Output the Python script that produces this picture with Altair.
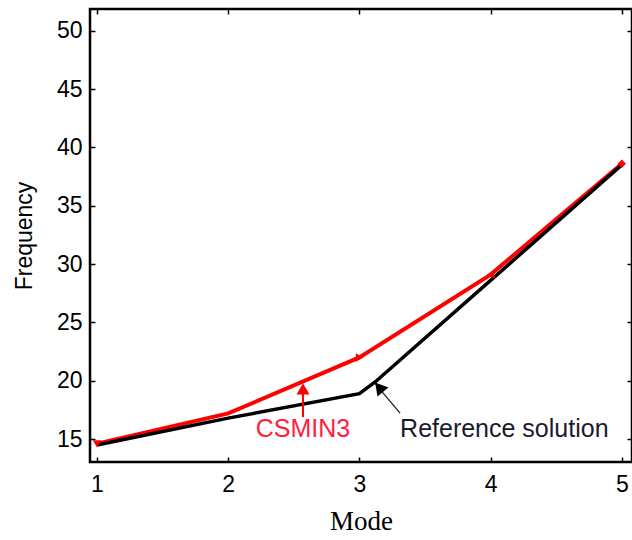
import altair as alt
import pandas as pd

# ---- data ----
ref_mode = [1, 2, 3, 3.12, 4, 5]
ref_freq = [14.5, 16.8, 18.9, 19.9, 28.6, 38.5]

cs_mode = [1, 2, 3, 4, 5]
cs_freq = [14.6, 17.2, 22.0, 29.1, 38.6]
cs_shapes = ["triangle-down", "triangle-up", "triangle-right", "triangle-left", "diamond"]

x_ticks = [1, 2, 3, 4, 5]
y_ticks = [15, 20, 25, 30, 35, 40, 45, 50]

# annotations (data coordinates)
cs_label = ["CSMIN3"]
cs_label_xy = [2.57, 15.17]
cs_arrow_x = [2.57]
cs_arrow_y = [16.9, 19.6]
cs_head_xy = [2.57, 19.3]

ref_label = ["Reference solution"]
ref_label_xy = [3.31, 15.17]
ref_arrow = [[3.31, 17.23], [3.12, 19.75]]
ref_head_xy = [3.15, 19.45]

ref_df = pd.DataFrame({"mode": ref_mode, "freq": ref_freq})
cs_df = pd.DataFrame({"mode": cs_mode, "freq": cs_freq, "shape": cs_shapes})

xs = alt.Scale(domain=[0.9466, 5.0777], nice=False, zero=False)
ys = alt.Scale(domain=[13.04, 51.86], nice=False, zero=False)

tick_font = "Liberation Sans"

axis_bottom = alt.Axis(orient="bottom", values=x_ticks, domain=False, grid=False,
                       offset=-5, tickSize=5, tickWidth=1.5, tickColor="black",
                       labelPadding=11, labelFont=tick_font, labelFontSize=23,
                       labelColor="black", title="Mode", titleFont="Liberation Serif",
                       titleFontSize=27, titleFontWeight="normal", titleColor="black",
                       titlePadding=12)
axis_left = alt.Axis(orient="left", values=y_ticks, domain=False, grid=False,
                     offset=-5, tickSize=5, tickWidth=1.5, tickColor="black",
                     labelPadding=8, labelFont=tick_font, labelFontSize=23,
                     labelColor="black", title="Frequency", titleFont=tick_font,
                     titleFontSize=23, titleFontWeight="normal", titleColor="black",
                     titlePadding=20)
axis_top = alt.Axis(orient="top", values=x_ticks, domain=False, grid=False, labels=False,
                    offset=-5, tickSize=5, tickWidth=1.5, tickColor="black", title=None)
axis_right = alt.Axis(orient="right", values=y_ticks, domain=False, grid=False, labels=False,
                      offset=-5, tickSize=5, tickWidth=1.5, tickColor="black", title=None)


def X(field, axis=None):
    return alt.X(field, scale=xs, axis=axis)


def Y(field, axis=None):
    return alt.Y(field, scale=ys, axis=axis)


black_line = alt.Chart(ref_df).mark_line(color="black", strokeWidth=3.5).encode(
    x=X("mode:Q", axis_top), y=Y("freq:Q", axis_right))

red_line = alt.Chart(cs_df).mark_line(color="#ff0000", strokeWidth=4).encode(
    x=X("mode:Q", axis_bottom), y=Y("freq:Q", axis_left))

red_pts = alt.Chart(cs_df[cs_df["shape"] != "triangle-up"]).mark_point(
    filled=True, color="#ff0000", size=70, opacity=1).encode(
    x=X("mode:Q"), y=Y("freq:Q"),
    shape=alt.Shape("shape:N", scale=None),
)

cs_shaft_df = pd.DataFrame({"x": cs_arrow_x, "y": [cs_arrow_y[0]], "y2": [cs_arrow_y[1]]})
cs_shaft = alt.Chart(cs_shaft_df).mark_rule(color="#ff0000", strokeWidth=2).encode(
    x=X("x:Q"), y=Y("y:Q"), y2="y2:Q")
cs_head = alt.Chart(pd.DataFrame({"x": [cs_head_xy[0]], "y": [cs_head_xy[1]]})).mark_point(
    shape="triangle-up", filled=True, color="#ff0000", size=170, opacity=1).encode(
    x=X("x:Q"), y=Y("y:Q"))
cs_text = alt.Chart(pd.DataFrame({"x": [cs_label_xy[0]], "y": [cs_label_xy[1]], "t": cs_label})).mark_text(
    font=tick_font, fontSize=25, color="#ff2040", align="center", baseline="alphabetic").encode(
    x=X("x:Q"), y=Y("y:Q"), text="t:N")

ref_shaft_df = pd.DataFrame({"x": [ref_arrow[0][0]], "y": [ref_arrow[0][1]],
                             "x2": [ref_arrow[1][0]], "y2": [ref_arrow[1][1]]})
ref_shaft = alt.Chart(ref_shaft_df).mark_rule(color="#222222", strokeWidth=1.3).encode(
    x=X("x:Q"), y=Y("y:Q"), x2="x2:Q", y2="y2:Q")
ref_head = alt.Chart(pd.DataFrame({"x": [ref_head_xy[0]], "y": [ref_head_xy[1]]})).mark_point(
    shape="triangle-up", filled=True, color="black", size=200, opacity=1, angle=321).encode(
    x=X("x:Q"), y=Y("y:Q"))
ref_text = alt.Chart(pd.DataFrame({"x": [ref_label_xy[0]], "y": [ref_label_xy[1]], "t": ref_label})).mark_text(
    font=tick_font, fontSize=25, color="#1a1a2e", align="left", baseline="alphabetic").encode(
    x=X("x:Q"), y=Y("y:Q"), text="t:N")

chart = alt.layer(
    red_line, black_line, red_pts, cs_shaft, cs_head, cs_text, ref_shaft, ref_head, ref_text
).resolve_axis(x="independent", y="independent").properties(
    width=542, height=453,
    background="white",
    autosize=alt.AutoSizeParams(type="none"),
    padding={"left": 90, "top": 9, "right": 0, "bottom": 78},
).configure_view(stroke="black", strokeWidth=2.5)

chart.save("out.html", embed_options={"renderer": "svg", "actions": False})
